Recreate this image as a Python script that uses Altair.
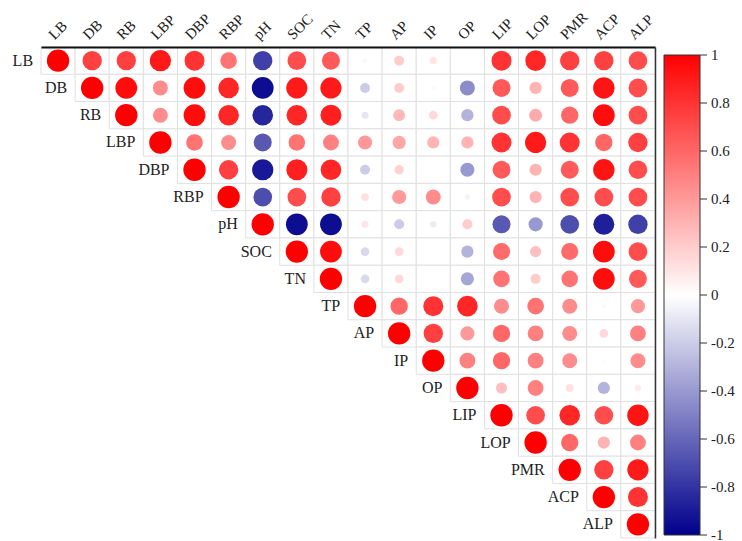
import altair as alt
import pandas as pd

SERIF = "Liberation Serif"

variables = ["LB", "DB", "RB", "LBP", "DBP", "RBP", "pH", "SOC", "TN",
             "TP", "AP", "IP", "OP", "LIP", "LOP", "PMR", "ACP", "ALP"]

# Upper-triangle correlation coefficients, one list per row (starting at the diagonal)
r_LB = [1, 0.75, 0.75, 0.9, 0.8, 0.55, -0.75, 0.7, 0.65, 0.04, 0.2, 0.1, 0.0, 0.8, 0.85, 0.75, 0.75, 0.7]
r_DB = [1, 0.95, 0.45, 0.95, 0.85, -0.95, 0.9, 0.9, -0.2, 0.2, 0.03, -0.45, 0.65, 0.3, 0.65, 0.92, 0.7]
r_RB = [1, 0.45, 0.95, 0.85, -0.85, 0.85, 0.88, -0.1, 0.28, 0.15, -0.3, 0.7, 0.33, 0.6, 0.95, 0.7]
r_LBP = [1, 0.55, 0.45, -0.65, 0.55, 0.5, 0.4, 0.35, 0.3, 0.3, 0.8, 0.9, 0.8, 0.6, 0.75]
r_DBP = [1, 0.75, -0.9, 0.88, 0.85, -0.2, 0.18, 0.0, -0.4, 0.65, 0.3, 0.65, 0.92, 0.7]
r_RBP = [1, -0.7, 0.7, 0.75, 0.12, 0.4, 0.45, -0.05, 0.7, 0.3, 0.7, 0.7, 0.7]
r_pH = [1, -0.95, -0.95, 0.1, -0.2, -0.08, 0.2, -0.65, -0.4, -0.7, -0.88, -0.75]
r_SOC = [1, 0.95, -0.15, 0.15, 0.0, -0.3, 0.58, 0.25, 0.58, 0.95, 0.7]
r_TN = [1, -0.15, 0.15, 0.0, -0.35, 0.55, 0.2, 0.55, 0.95, 0.65]
r_TP = [1, 0.6, 0.8, 0.85, 0.45, 0.55, 0.45, -0.03, 0.4]
r_AP = [1, 0.75, 0.4, 0.6, 0.5, 0.45, 0.15, 0.5]
r_IP = [1, 0.5, 0.6, 0.5, 0.45, 0.02, 0.45]
r_OP = [1, 0.25, 0.5, 0.12, -0.3, 0.08]
r_LIP = [1, 0.7, 0.85, 0.7, 0.92]
r_LOP = [1, 0.6, 0.3, 0.5]
r_PMR = [1, 0.75, 0.9]
r_ACP = [1, 0.8]
r_ALP = [1]

rows = [r_LB, r_DB, r_RB, r_LBP, r_DBP, r_RBP, r_pH, r_SOC, r_TN,
        r_TP, r_AP, r_IP, r_OP, r_LIP, r_LOP, r_PMR, r_ACP, r_ALP]

colorbar_values = [1, 0.8, 0.6, 0.4, 0.2, 0, -0.2, -0.4, -0.6, -0.8, -1]
colorbar_labels = ["1", "0.8", "0.6", "0.4", "0.2", "0", "-0.2", "-0.4", "-0.6", "-0.8", "-1"]

records = []
for i, (name, vals) in enumerate(zip(variables, rows)):
    for k, v in enumerate(vals):
        records.append({"row": name, "col": variables[i + k], "r": v, "absr": abs(v)})
corr = pd.DataFrame(records)
names = pd.DataFrame({"row": variables, "col": variables})
cb_ticks = pd.DataFrame({"t": colorbar_values, "label": colorbar_labels})

band = alt.Scale(paddingInner=0, paddingOuter=0)

x_enc = alt.X(
    "col:N", sort=variables, scale=band,
    axis=alt.Axis(orient="top", title=None, ticks=False, grid=False, labels=False,
                  domainColor="#111", domainWidth=2),
)
y_enc = alt.Y(
    "row:N", sort=variables, scale=band,
    axis=alt.Axis(orient="right", title=None, labels=False, ticks=False,
                  grid=False, domainColor="#333", domainWidth=1.5),
)

cells = alt.Chart(corr).mark_rect(fill="white", stroke="#e0e0e0", strokeWidth=1).encode(
    x=x_enc, y=y_enc
)

circles = alt.Chart(corr).mark_circle(opacity=1).encode(
    x=x_enc,
    y=y_enc,
    size=alt.Size("absr:Q", scale=alt.Scale(domain=[0, 1], range=[0, 500]), legend=None),
    color=alt.Color(
        "r:Q",
        scale=alt.Scale(domain=[-1, 0, 1], range=["#00008B", "#FFFFFF", "#FF0000"],
                        interpolate="rgb"),
        legend=alt.Legend(
            orient="none", legendX=623, legendY=8, direction="vertical",
            gradientLength=480, gradientThickness=36,
            gradientStrokeColor="#333", gradientStrokeWidth=1,
            values=colorbar_values, title=None, labelExpr="''",
        ),
    ),
)

# variable names beside the diagonal cells
row_labels = alt.Chart(names).mark_text(
    align="right", baseline="middle", dx=-25, font=SERIF, fontSize=16, color="#222"
).encode(x=x_enc, y=y_enc, text="row:N")

# slanted variable names above the columns
col_labels = alt.Chart(names).mark_text(
    align="left", baseline="middle", dx=-5, dy=-5,
    font=SERIF, fontSize=15, color="#222"
).encode(x=x_enc, y=alt.value(-10), text="col:N", angle=alt.value(315))

matrix = alt.layer(cells, circles, row_labels, col_labels)

# tick marks and labels along the right edge of the colour bar
cb_y = alt.Y("t:Q", scale=alt.Scale(domain=[-1, 1], range=[488, 8]), axis=None)
cb_tick_marks = alt.Chart(cb_ticks).mark_rule(color="#333", strokeWidth=1).encode(
    x=alt.value(659), x2=alt.value(666), y=cb_y,
)
cb_tick_labels = alt.Chart(cb_ticks).mark_text(
    align="left", baseline="middle", font=SERIF, fontSize=15, color="#222"
).encode(x=alt.value(670), y=cb_y, text="label:N")
colorbar_axis = alt.layer(cb_tick_marks, cb_tick_labels)

chart = (
    alt.layer(matrix, colorbar_axis)
    .resolve_scale(y="independent")
    .properties(
        width=614, height=491,
        autosize=alt.AutoSizeParams(type="none"),
        padding={"left": 41, "top": 47, "right": 87, "bottom": 3},
        background="white",
    )
    .configure_view(strokeWidth=0)
)

chart.save("out.html", embed_options={"renderer": "svg", "actions": False})
